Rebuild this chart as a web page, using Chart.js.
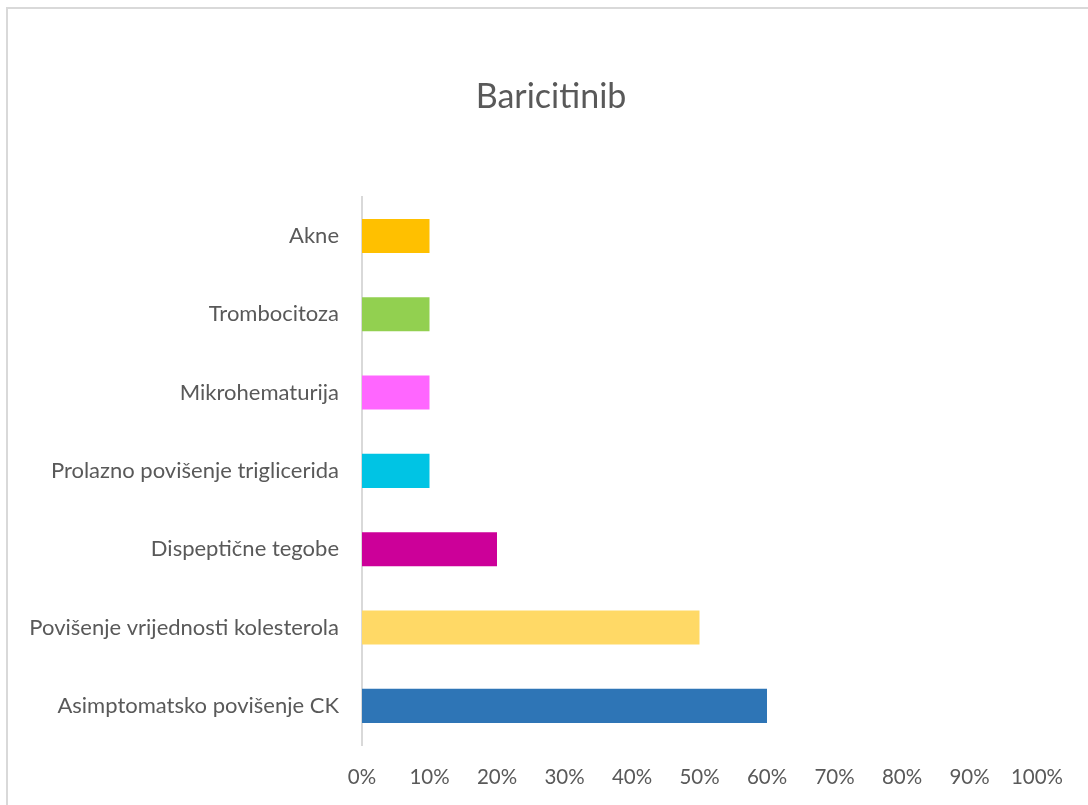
<!DOCTYPE html>
<html>
<head>
<meta charset="utf-8">
<title>Baricitinib</title>
<script src="https://cdn.jsdelivr.net/npm/chart.js@4"></script>
<style>
    html, body {
        margin: 0;
        padding: 0;
        background: #ffffff;
        overflow: hidden;
    }
    .frame {
        position: absolute;
        left: 6px;
        top: 7px;
        width: 1200px;
        height: 900px;
        border: 2px solid #d9d9d9;
    }
    .chart-box {
        position: absolute;
        left: 0;
        top: 0;
        width: 1088px;
        height: 805px;
    }
</style>
</head>
<body>
<div class="frame"></div>
<div class="chart-box">
    <canvas id="baricitinibChart" width="1088" height="805"></canvas>
</div>
<script>
// side effects, top to bottom
const categories = [
    'Akne',
    'Trombocitoza',
    'Mikrohematurija',
    'Prolazno povišenje triglicerida',
    'Dispeptične tegobe',
    'Povišenje vrijednosti kolesterola',
    'Asimptomatsko povišenje CK'
];
const percentages = [10, 10, 10, 10, 20, 50, 60];
const barColors = ['#FFC000', '#92D050', '#FF66FF', '#00C4E4', '#CC0099', '#FFD966', '#2E75B6'];
const tickValues = [0, 10, 20, 30, 40, 50, 60, 70, 80, 90, 100];

const textColor = '#595959';
const fontFamily = 'Lato, "Open Sans", sans-serif';

// centre the title over the whole frame rather than the padded box
const centerTitle = {
    id: 'centerTitle',
    afterLayout(chart) {
        const t = chart.titleBlock;
        if (t) {
            t.left = 14;
            t.right = chart.width;
        }
    }
};

const ctx = document.querySelector('#baricitinibChart');
new Chart(ctx, {
    type: 'bar',
    data: {
        labels: categories,
        datasets: [{
            data: percentages,
            backgroundColor: barColors,
            borderWidth: 0,
            categoryPercentage: 1,
            barPercentage: 0.435
        }]
    },
    options: {
        indexAxis: 'y',
        responsive: false,
        animation: false,
        layout: {
            padding: { left: 0, right: 51, top: 0, bottom: 16 }
        },
        plugins: {
            legend: { display: false },
            tooltip: { enabled: false },
            title: {
                display: true,
                text: 'Baricitinib',
                color: textColor,
                font: { family: fontFamily, size: 34, weight: 'normal', lineHeight: 1.2 },
                padding: { top: 77, bottom: 79 }
            }
        },
        scales: {
            x: {
                min: 0,
                max: 100,
                afterBuildTicks(axis) {
                    axis.ticks = tickValues.map(v => ({ value: v }));
                },
                afterFit(axis) {
                    axis.height = 44;
                },
                ticks: {
                    color: textColor,
                    padding: 20,
                    maxRotation: 0,
                    font: { family: fontFamily, size: 20.5 },
                    callback: v => v + '%'
                },
                grid: { display: false, drawTicks: false },
                border: { display: false }
            },
            y: {
                afterFit(axis) {
                    axis.width = 362;
                },
                ticks: {
                    color: textColor,
                    padding: 23,
                    font: { family: fontFamily, size: 22 }
                },
                grid: { display: false, drawTicks: false },
                border: { display: true, color: '#d9d9d9', width: 2 }
            }
        }
    },
    plugins: [centerTitle]
});
</script>
</body>
</html>
